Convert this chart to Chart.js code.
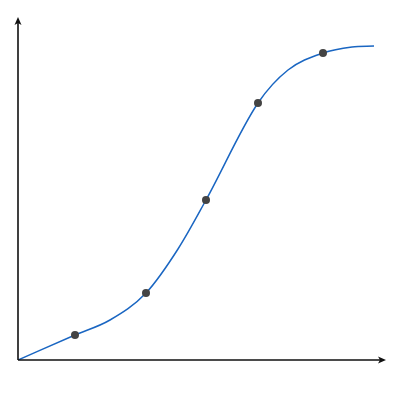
<!DOCTYPE html>
<html>
<head>
<meta charset="utf-8">
<script src="https://cdn.jsdelivr.net/npm/chart.js@4/dist/chart.umd.min.js"></script>
<style>
  html, body { margin: 0; padding: 0; background: #fff; }
  #wrap { width: 400px; height: 400px; }
</style>
</head>
<body>
<div id="wrap"><canvas id="curveChart"></canvas></div>
<script>
// values (points with radius 0 are on the curve but carry no dot)
const xValues = [0, 57, 92, 128, 160, 188, 240, 270, 305, 334, 356];
const yValues = [0, 25, 40, 67, 111, 160, 257, 290, 307, 313, 314];
const dotRadius = [0, 4, 0, 4, 0, 4, 4, 0, 4, 0, 0];
const xMax = 368;
const yMax = 343;

// draws the two axes as arrows
const arrowAxes = {
  id: 'arrowAxes',
  afterDraw(chart) {
    const { ctx, chartArea: a } = chart;
    ctx.save();
    ctx.strokeStyle = '#111';
    ctx.fillStyle = '#111';
    ctx.lineWidth = 1.6;
    ctx.beginPath();
    ctx.moveTo(a.left, a.bottom);
    ctx.lineTo(a.left, a.top + 4);
    ctx.moveTo(a.left, a.bottom);
    ctx.lineTo(a.right - 4, a.bottom);
    ctx.stroke();
    // up arrow
    ctx.beginPath();
    ctx.moveTo(a.left, a.top);
    ctx.lineTo(a.left + 3.5, a.top + 8);
    ctx.lineTo(a.left, a.top + 6);
    ctx.lineTo(a.left - 3.5, a.top + 8);
    ctx.closePath();
    ctx.fill();
    // right arrow
    ctx.beginPath();
    ctx.moveTo(a.right, a.bottom);
    ctx.lineTo(a.right - 8, a.bottom - 3.5);
    ctx.lineTo(a.right - 6, a.bottom);
    ctx.lineTo(a.right - 8, a.bottom + 3.5);
    ctx.closePath();
    ctx.fill();
    ctx.restore();
  }
};

const ctx = document.getElementById('curveChart').getContext('2d');
new Chart(ctx, {
  type: 'line',
  data: {
    datasets: [{
      data: xValues.map((x, i) => ({ x: x, y: yValues[i] })),
      borderColor: '#1a66c2',
      borderWidth: 1.5,
      pointRadius: dotRadius,
      pointBackgroundColor: '#444',
      pointBorderColor: '#444',
      pointBorderWidth: 0,
      cubicInterpolationMode: 'monotone',
      fill: false
    }]
  },
  options: {
    responsive: true,
    maintainAspectRatio: false,
    animation: false,
    layout: { padding: { left: 18, right: 14, top: 17, bottom: 40 } },
    plugins: { legend: { display: false }, tooltip: { enabled: false } },
    scales: {
      x: { type: 'linear', min: 0, max: xMax, display: false },
      y: { min: 0, max: yMax, display: false }
    }
  },
  plugins: [arrowAxes]
});
</script>
</body>
</html>
